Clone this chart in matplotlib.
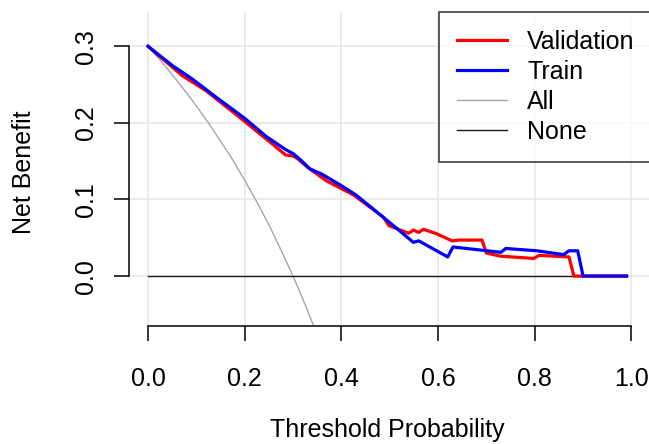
import matplotlib
matplotlib.use('Agg')
import matplotlib.pyplot as plt

plt.rcParams['font.family'] = ['Liberation Sans', 'DejaVu Sans']

# threshold probabilities and net benefit
val_x = [0.0, 0.02, 0.05, 0.07, 0.12, 0.19, 0.225, 0.285, 0.30, 0.31, 0.33,
         0.37, 0.425, 0.487, 0.498, 0.539, 0.549, 0.56, 0.57, 0.594, 0.629,
         0.643, 0.691, 0.70, 0.729, 0.798, 0.809, 0.871, 0.881, 0.99]
val_y = [0.300, 0.289, 0.273, 0.262, 0.242, 0.207, 0.189, 0.158, 0.157, 0.153,
         0.142, 0.124, 0.106, 0.077, 0.066, 0.056, 0.060, 0.057, 0.061, 0.056,
         0.046, 0.047, 0.047, 0.030, 0.026, 0.023, 0.027, 0.025, 0.0, 0.0]

train_x = [0.0, 0.02, 0.05, 0.09, 0.14, 0.20, 0.245, 0.285, 0.30, 0.315, 0.335,
           0.36, 0.40, 0.43, 0.465, 0.49, 0.515, 0.549, 0.56, 0.62, 0.631,
           0.73, 0.74, 0.805, 0.86, 0.871, 0.889, 0.90, 0.99]
train_y = [0.300, 0.290, 0.275, 0.258, 0.234, 0.206, 0.182, 0.165, 0.160, 0.152,
           0.140, 0.133, 0.118, 0.106, 0.088, 0.075, 0.062, 0.044, 0.046, 0.025,
           0.038, 0.031, 0.036, 0.033, 0.028, 0.033, 0.033, 0.0, 0.0]

all_x = [0.0, 0.025, 0.05, 0.075, 0.1, 0.125, 0.15, 0.175, 0.2, 0.225, 0.25,
         0.275, 0.3, 0.325, 0.35]
all_y = [0.300, 0.282, 0.263, 0.243, 0.222, 0.200, 0.176, 0.152, 0.125, 0.097,
         0.067, 0.034, 0.0, -0.037, -0.077]

none_x = [0.0, 0.99]
none_y = [0.0, 0.0]

xticks = [0.0, 0.2, 0.4, 0.6, 0.8, 1.0]
yticks = [0.0, 0.1, 0.2, 0.3]


def main():
    fig = plt.figure(figsize=(6.49, 4.44), dpi=100)
    W, H = 649, 444
    ax = fig.add_axes([128.7 / W, (H - 326) / H, 522 / W, 314 / H])
    ax.set_xlim(-0.04, 1.04)
    ax.set_ylim(-0.0652, 0.3448)

    for x in xticks:
        ax.axvline(x, color='#e8e8e8', lw=1.2, zorder=0)
    for y in yticks:
        ax.axhline(y, color='#e8e8e8', lw=1.2, zorder=0)

    ax.plot(all_x, all_y, color='#a6a6a6', lw=1.0, label='All', zorder=2)
    ax.plot(none_x, none_y, color='#1a1a1a', lw=1.0, label='None', zorder=2)
    ax.plot(val_x, val_y, color='#ff0000', lw=2.3, label='Validation', zorder=3)
    ax.plot(train_x, train_y, color='#0000ff', lw=2.3, label='Train', zorder=4)

    for s in ['top', 'right']:
        ax.spines[s].set_visible(False)
    ax.spines['left'].set_bounds(0, 0.3)
    ax.spines['bottom'].set_bounds(0, 1)
    for s in ['left', 'bottom']:
        ax.spines[s].set_linewidth(1.1)

    ax.set_xticks(xticks)
    ax.set_xticklabels(['%.1f' % v for v in xticks])
    ax.set_yticks(yticks)
    ax.set_yticklabels(['%.1f' % v for v in yticks], rotation=90, va='center')
    ax.tick_params(axis='both', direction='out', length=10.8, width=1.1,
                   labelsize=18, colors='black')
    ax.tick_params(axis='x', pad=19)
    ax.tick_params(axis='y', pad=11)

    ax.set_xlabel('Threshold Probability', fontsize=18, va='center')
    ax.xaxis.set_label_coords((387 - 128.7) / 522, (326 - 430) / 314)
    ax.set_ylabel('Net Benefit', fontsize=18, va='center')
    ax.yaxis.set_label_coords((24 - 128.7) / 522, 0.49)

    h, l = ax.get_legend_handles_labels()
    order = [2, 3, 0, 1]
    leg = ax.legend([h[i] for i in order], [l[i] for i in order],
                    loc='upper right', bbox_to_anchor=(1.004, 1.0),
                    fontsize=18, frameon=True, fancybox=False,
                    borderpad=0.72, labelspacing=0.24, handlelength=2.0,
                    handletextpad=0.8, borderaxespad=0)
    leg.get_frame().set_edgecolor('#222222')
    leg.get_frame().set_linewidth(1.3)

    fig.savefig('out.png', dpi=100)


if __name__ == '__main__':
    main()
